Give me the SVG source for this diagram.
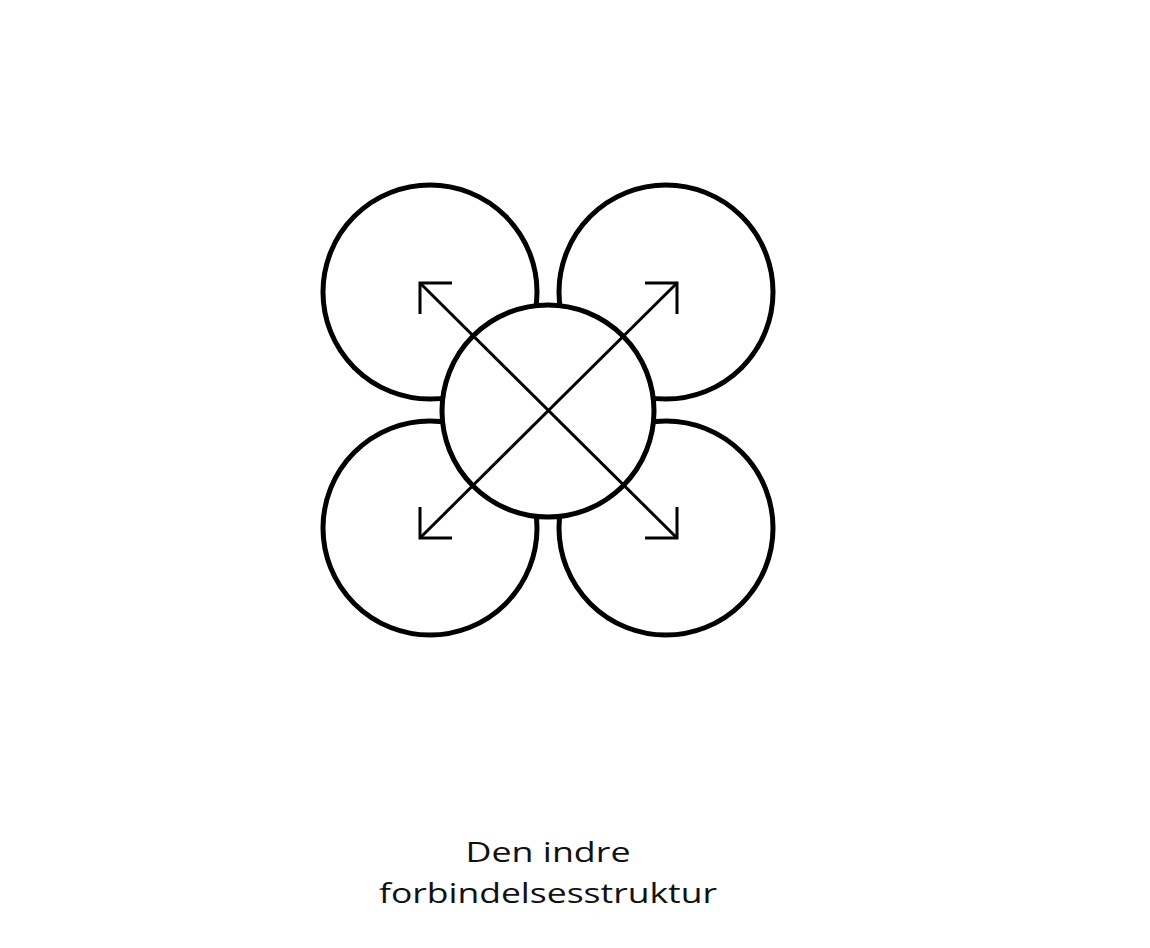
<svg xmlns="http://www.w3.org/2000/svg" width="1150" height="948" viewBox="0 0 1150 948">
<style>
.ring{fill:#fff;stroke:#000;stroke-width:5}
.arr{fill:none;stroke:#000;stroke-width:3}
.lbl{font-family:"Open Sans","Noto Sans",sans-serif;font-size:27px;fill:#111;text-anchor:middle}
</style>
<rect width="1150" height="948" fill="#fff"/>
<g id="circle-tl"><circle class="ring" cx="430" cy="292" r="107"/></g>
<g id="circle-tr"><circle class="ring" cx="666" cy="292" r="107"/></g>
<g id="circle-bl"><circle class="ring" cx="430" cy="528" r="107"/></g>
<g id="circle-br"><circle class="ring" cx="666" cy="528" r="107"/></g>
<g id="circle-center"><circle class="ring" cx="548" cy="411" r="106"/></g>
<g id="connectors">
<line class="arr" x1="420" y1="283" x2="677" y2="538"/>
<line class="arr" x1="677" y1="283" x2="420" y2="538"/>
<polyline class="arr" points="452,283 420,283 420,314"/>
<polyline class="arr" points="645,283 677,283 677,314"/>
<polyline class="arr" points="420,507 420,538 452,538"/>
<polyline class="arr" points="645,538 677,538 677,507"/>
</g>
<g id="label">
<text class="lbl" x="548" y="862" textLength="165" lengthAdjust="spacingAndGlyphs">Den indre</text>
<text class="lbl" x="548" y="903" textLength="338" lengthAdjust="spacingAndGlyphs">forbindelsesstruktur</text>
</g>
</svg>
